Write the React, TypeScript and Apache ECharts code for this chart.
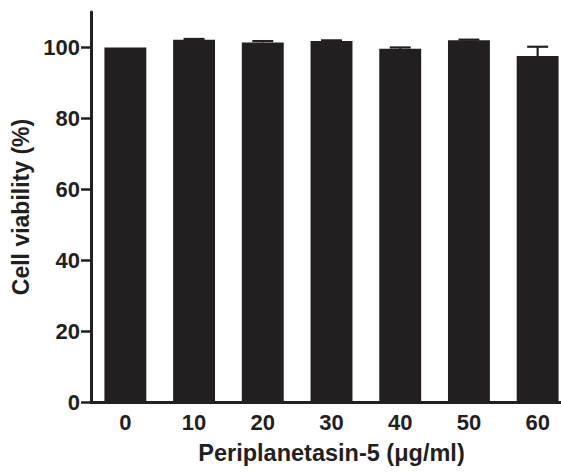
import React, { useEffect, useRef } from "react";
import * as echarts from "echarts";

const categories = ["0", "10", "20", "30", "40", "50", "60"];
const viability = [100, 102.2, 101.4, 101.8, 99.6, 102, 97.6];
const errors = [0, 0.2, 0.4, 0.2, 0.4, 0.2, 2.6];
const yTicks = [0, 20, 40, 60, 80, 100];

const INK = "#231f20";
const FONT = "'Liberation Sans', Arial, sans-serif";

export default function App() {
  const ref = useRef<HTMLDivElement>(null);
  useEffect(() => {
    if (!ref.current) return;
    const chart = echarts.init(ref.current, undefined, { renderer: "svg" });
    chart.setOption({
      animation: false,
      backgroundColor: "#ffffff",
      grid: { left: 91, width: 481, top: 12, bottom: 71, containLabel: false, outerBoundsMode: "none" },
      xAxis: {
        type: "category",
        data: categories,
        name: "Periplanetasin-5 (\u03bcg/ml)",
        nameLocation: "middle",
        nameGap: 39,
        nameTextStyle: { fontFamily: FONT, fontWeight: "bold", fontSize: 23.5, color: INK },
        axisLine: { lineStyle: { color: INK, width: 3 } },
        axisTick: { alignWithLabel: true, length: 6, lineStyle: { color: INK, width: 3 } },
        axisLabel: { fontFamily: FONT, fontWeight: "bold", fontSize: 22, color: INK, margin: 9 },
        splitLine: { show: false },
      },
      yAxis: {
        type: "value",
        min: 0,
        max: 110,
        interval: 20,
        name: "Cell viability (%)",
        nameLocation: "middle",
        nameGap: 56,
        nameTextStyle: { fontFamily: FONT, fontWeight: "bold", fontSize: 23, color: INK },
        axisLine: { show: true, lineStyle: { color: INK, width: 3 } },
        axisTick: { show: true, length: 10, customValues: yTicks, lineStyle: { color: INK, width: 2.5 } },
        axisLabel: { fontFamily: FONT, fontWeight: "bold", fontSize: 22, color: INK, margin: 11, customValues: yTicks },
        splitLine: { show: false },
      },
      series: [
        {
          type: "bar",
          data: viability,
          barWidth: "61%",
          itemStyle: { color: INK },
          z: 2,
        },
        {
          type: "custom",
          z: 3,
          data: viability.map((v, i) => [i, v, errors[i]]),
          renderItem: (params: any, api: any) => {
            const idx = api.value(0);
            const v = api.value(1);
            const e = api.value(2);
            if (!e) return { type: "group", children: [] };
            const base = api.coord([idx, v]);
            const top = api.coord([idx, v + e]);
            const bw = api.size([1, 0])[0] * 0.61;
            const half = bw / 4;
            const style = { stroke: INK, lineWidth: 2.2, fill: "none" };
            return {
              type: "group",
              children: [
                { type: "line", shape: { x1: base[0], y1: base[1], x2: top[0], y2: top[1] }, style },
                { type: "line", shape: { x1: top[0] - half, y1: top[1], x2: top[0] + half, y2: top[1] }, style },
              ],
            };
          },
        },
      ],
    });
    return () => chart.dispose();
  }, []);
  return <div ref={ref} style={{ width: 561, height: 473, position: "absolute", left: 0, top: 0 }} />;
}
